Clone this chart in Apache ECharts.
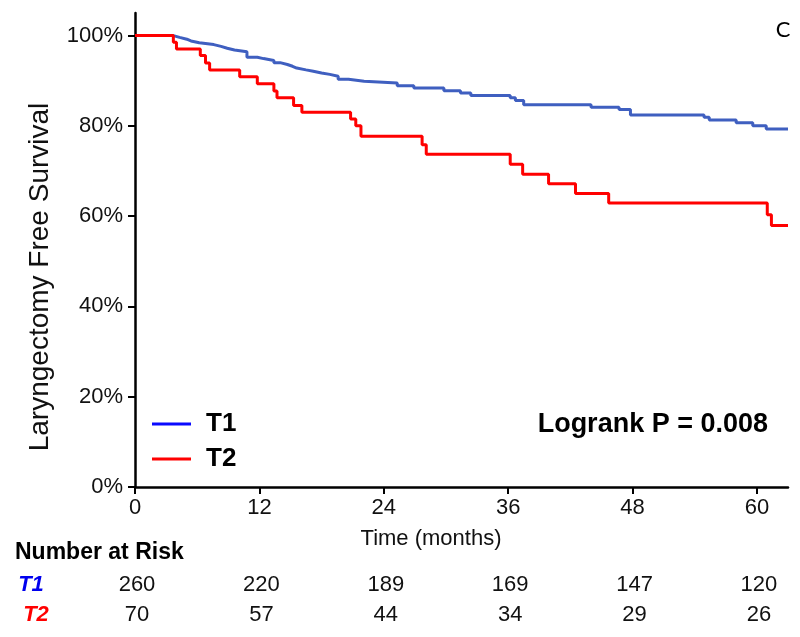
<!DOCTYPE html>
<html>
<head>
<meta charset="utf-8">
<script src="https://cdn.jsdelivr.net/npm/echarts@6/dist/echarts.min.js"></script>
<style>html,body{margin:0;padding:0;background:#fff}#c{width:800px;height:637px}</style>
</head>
<body>
<div id="c"></div>
<script>
// ---- data ----
const t1Times = [0, 3.7, 4.3, 5.0, 5.4, 6.2, 7.6, 8.3, 8.9, 9.6, 10.8, 11.8, 12.4, 13.4, 14.0, 14.7, 15.2, 15.6, 16.5, 17.2, 18.0, 18.8, 19.6, 20.6, 22.1, 25.3, 26.9, 29.8, 31.4, 32.4, 36.2, 36.7, 37.5, 44.0, 46.7, 47.8, 54.9, 55.4, 58.0, 59.6, 60.9, 63.0];
const t1Surv  = [100, 99.6, 99.2, 98.8, 98.4, 98.0, 97.6, 97.2, 96.8, 96.4, 95.2, 94.9, 94.5, 94.0, 93.6, 93.2, 92.8, 92.4, 92.1, 91.7, 91.4, 91.0, 90.3, 89.9, 89.5, 88.9, 88.4, 87.8, 87.3, 86.7, 86.2, 85.6, 84.7, 84.1, 83.6, 82.4, 81.9, 81.3, 80.7, 80.0, 79.3, 79.3];
const t2Times = [0, 3.7, 4.0, 6.3, 6.8, 7.2, 10.1, 11.8, 13.4, 13.7, 15.3, 16.1, 20.8, 21.3, 21.8, 27.7, 28.1, 36.2, 37.4, 39.9, 42.5, 45.7, 61.0, 61.4, 63.0];
const t2Surv  = [100, 98.5, 97.0, 95.6, 93.9, 92.4, 90.9, 89.3, 87.7, 86.2, 84.5, 83.0, 81.5, 80.0, 77.7, 75.8, 73.7, 71.5, 69.3, 67.2, 65.0, 62.9, 60.3, 57.9, 57.9];
const xTicks = [0, 12, 24, 36, 48, 60];
const yTicks = [0, 20, 40, 60, 80, 100];
const riskT1 = [260, 220, 189, 169, 147, 120];
const riskT2 = [70, 57, 44, 34, 29, 26];
const groupNames = ['T1', 'T2'];

const FONT = '"Liberation Sans", Arial, sans-serif';
const chart = echarts.init(document.getElementById('c'), null, {renderer: 'canvas'});

const pairs = (ts, ss) => ts.map((t, i) => [t, ss[i]]);

chart.setOption({
  animation: false,
  backgroundColor: '#fff',
  grid: {left: 135, right: 12, top: 13, bottom: 150, containLabel: false},
  xAxis: {
    type: 'value', min: 0, max: 63,
    axisLine: {show: true, onZero: false, lineStyle: {color: '#000', width: 2.5}},
    axisTick: {show: true, customValues: xTicks, length: 7, lineStyle: {color: '#000', width: 2}},
    axisLabel: {customValues: xTicks, margin: 10, color: '#111', fontSize: 22, fontFamily: FONT},
    splitLine: {show: false}
  },
  yAxis: {
    type: 'value', min: 0, max: 105,
    axisLine: {show: true, lineStyle: {color: '#000', width: 2.5}},
    axisTick: {show: true, customValues: yTicks, length: 7, lineStyle: {color: '#000', width: 2}},
    axisLabel: {customValues: yTicks, margin: 12, color: '#111', fontSize: 22, fontFamily: FONT, formatter: '{value}%'},
    splitLine: {show: false}
  },
  legend: {
    orient: 'vertical', left: 147, top: 406, itemWidth: 39, itemHeight: 3, itemGap: 9, icon: 'rect',
    textStyle: {fontFamily: FONT, fontSize: 26, fontWeight: 'bold', color: '#000', padding: [0, 0, 0, 10]},
    data: [
      {name: groupNames[0], itemStyle: {color: '#0a0aff'}},
      {name: groupNames[1], itemStyle: {color: '#ff0000'}}
    ],
    selectedMode: false
  },
  series: [
    {name: groupNames[0], type: 'line', step: 'end', showSymbol: false, data: pairs(t1Times, t1Surv),
     lineStyle: {color: '#3f5fc0', width: 3}, itemStyle: {color: '#3f5fc0'}},
    {name: groupNames[1], type: 'line', step: 'end', showSymbol: false, data: pairs(t2Times, t2Surv),
     lineStyle: {color: '#ff0000', width: 3}, itemStyle: {color: '#ff0000'}}
  ]
});

const g = [];
g.push({type: 'text', x: 40, y: 277, rotation: Math.PI / 2,
  style: {text: 'Laryngectomy Free Survival', font: '28px ' + FONT, fill: '#111', textAlign: 'center', textVerticalAlign: 'middle'}});
g.push({type: 'text', x: 431, y: 539,
  style: {text: 'Time (months)', font: '22px ' + FONT, fill: '#111', textAlign: 'center', textVerticalAlign: 'middle'}});
g.push({type: 'text', x: 768, y: 425,
  style: {text: 'Logrank P = 0.008', font: 'bold 27px ' + FONT, fill: '#000', textAlign: 'right', textVerticalAlign: 'middle'}});
g.push({type: 'text', x: 783, y: 30,
  style: {text: 'C', font: '22px Lato, "Open Sans", sans-serif', fill: '#000', textAlign: 'center', textVerticalAlign: 'middle'}});
g.push({type: 'text', x: 15, y: 553,
  style: {text: 'Number at Risk', font: 'bold 23px ' + FONT, fill: '#000', textAlign: 'left', textVerticalAlign: 'middle'}});
g.push({type: 'text', x: 31, y: 585,
  style: {text: groupNames[0], font: 'italic bold 22px ' + FONT, fill: '#0000ee', textAlign: 'center', textVerticalAlign: 'middle'}});
g.push({type: 'text', x: 36, y: 615,
  style: {text: groupNames[1], font: 'italic bold 22px ' + FONT, fill: '#ff0000', textAlign: 'center', textVerticalAlign: 'middle'}});
xTicks.forEach((t, i) => {
  const px = chart.convertToPixel({xAxisIndex: 0}, t) + 2;
  g.push({type: 'text', x: px, y: 585,
    style: {text: String(riskT1[i]), font: '22px ' + FONT, fill: '#111', textAlign: 'center', textVerticalAlign: 'middle'}});
  g.push({type: 'text', x: px, y: 615,
    style: {text: String(riskT2[i]), font: '22px ' + FONT, fill: '#111', textAlign: 'center', textVerticalAlign: 'middle'}});
});
chart.setOption({graphic: g});
</script>
</body>
</html>
